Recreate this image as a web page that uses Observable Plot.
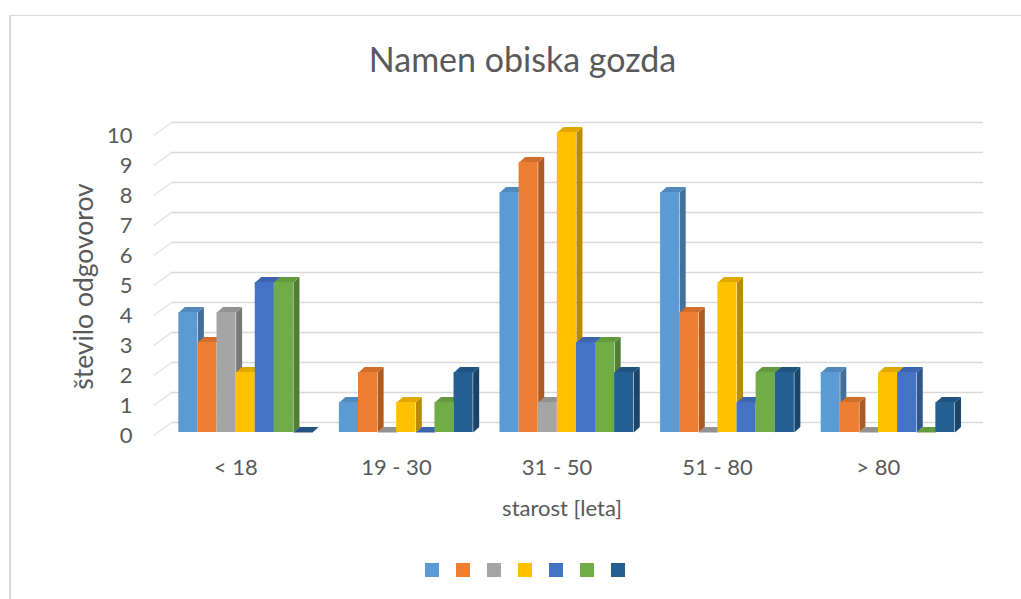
<!DOCTYPE html>
<html><head><meta charset="utf-8">
<script src="https://cdn.jsdelivr.net/npm/d3@7"></script>
<script src="https://cdn.jsdelivr.net/npm/@observablehq/plot@0.6"></script>
<style>
html,body{margin:0;padding:0;background:#fff;overflow:hidden;}
#wrap{position:relative;width:1021px;height:599px;overflow:hidden;font-family:Lato,sans-serif;background:#fff;}
#frame{position:absolute;left:9px;top:15px;width:1100px;height:700px;border-left:2px solid #d9d9d9;border-top:1.5px solid #d9d9d9;box-sizing:border-box;}
#title{position:absolute;left:0;width:1045px;top:42px;line-height:33px;text-align:center;font-size:34px;color:#595959;white-space:nowrap;}
#chart{position:absolute;left:0;top:0;}
#legend{position:absolute;top:563px;left:0;width:1021px;height:14px;}
#legend span{position:absolute;top:0;width:14px;height:14px;display:block;}
</style></head>
<body>
<div id="wrap">
  <div id="frame"></div>
  <div id="chart"></div>
  <div id="title">Namen obiska gozda</div>
  <div id="legend"></div>
</div>
<script>
// ---- data ----
const categories = ["< 18", "19 - 30", "31 - 50", "51 - 80", "> 80"];
const series1 = [4, 1, 8, 8, 2];
const series2 = [3, 2, 9, 4, 1];
const series3 = [4, 0, 1, 0, 0];
const series4 = [2, 1, 10, 5, 2];
const series5 = [5, 0, 3, 1, 2];
const series6 = [5, 1, 3, 2, 0];
const series7 = [0, 2, 2, 2, 1];
const seriesValues = [series1, series2, series3, series4, series5, series6, series7];
const seriesColors = ["#5B9BD5", "#ED7D31", "#A5A5A5", "#FFC000", "#4472C4", "#70AD47", "#255E91"];
const yTicks = [0, 1, 2, 3, 4, 5, 6, 7, 8, 9, 10];
const yTitle = "število odgovorov";
const xTitle = "starost [leta]";

// ---- layout (in category units / value units) ----
const GROUP_OFFSET = -0.355, BAR_W = 0.119, DEPTH_X = 0.0374, DEPTH_Y = 0.183;
const GRID_X0 = -0.012, GRID_XW = 0.1, GRID_X1 = 5.156;

const bars = [];
seriesValues.forEach((vals, si) => vals.forEach((v, ci) => {
  const x0 = ci + 0.5 + GROUP_OFFSET + si * BAR_W;
  const c = seriesColors[si];
  bars.push({id: si + "-" + ci, v, x0, x1: x0 + BAR_W, color: c,
    side: d3.color(c).darker(0.9).formatHex(), top: d3.color(c).darker(0.35).formatHex()});
}));
const sidePts = bars.flatMap(b => [
  {id: b.id, fill: b.side, x: b.x1, y: 0},
  {id: b.id, fill: b.side, x: b.x1, y: b.v},
  {id: b.id, fill: b.side, x: b.x1 + DEPTH_X, y: b.v + DEPTH_Y},
  {id: b.id, fill: b.side, x: b.x1 + DEPTH_X, y: DEPTH_Y}
]);
const topPts = bars.flatMap(b => [
  {id: b.id, fill: b.top, x: b.x0, y: b.v},
  {id: b.id, fill: b.top, x: b.x1, y: b.v},
  {id: b.id, fill: b.top, x: b.x1 + DEPTH_X, y: b.v + DEPTH_Y},
  {id: b.id, fill: b.top, x: b.x0 + DEPTH_X, y: b.v + DEPTH_Y}
]);

const chart = Plot.plot({
  width: 1021, height: 599,
  marginLeft: 155, marginRight: 63, marginTop: 132, marginBottom: 167,
  style: {fontFamily: "Lato, sans-serif", fontSize: "22px", color: "#595959", background: "transparent"},
  x: {type: "linear", domain: [0, 5], axis: null},
  y: {domain: [0, 10], axis: null},
  color: {type: "identity"},
  marks: [
    Plot.link(yTicks, {x1: GRID_X0, x2: GRID_XW, y1: d => d - 0.1, y2: d => d + 0.333, stroke: "#e2e2e2", strokeWidth: 1.2}),
    Plot.ruleY(yTicks, {x1: GRID_XW, x2: GRID_X1, dy: -10, stroke: "#d9d9d9", strokeWidth: 1.6}),
    Plot.axisY(yTicks, {tickSize: 0, tickPadding: 23, dy: 3, fontSize: 22, tickFormat: d => String(d)}),
    Plot.line(sidePts, {x: "x", y: "y", z: "id", fill: "fill", stroke: null}),
    Plot.line(topPts, {x: "x", y: "y", z: "id", fill: "fill", stroke: null}),
    Plot.rect(bars, {x1: "x0", x2: "x1", y1: 0, y2: "v", fill: "color"}),
    Plot.text(categories, {x: (d, i) => i + 0.5, y: 0, dy: 35, text: d => d, fontSize: 22}),
    Plot.text([xTitle], {frameAnchor: "bottom", dx: 5, dy: 83, text: d => d, fontSize: 22}),
    Plot.text([yTitle], {frameAnchor: "left", textAnchor: "middle", rotate: -90, dx: -71, dy: 4, text: d => d, fontSize: 26.5})
  ]
});
document.getElementById("chart").appendChild(chart);

const legend = document.getElementById("legend");
seriesColors.forEach((c, i) => {
  const s = document.createElement("span");
  s.style.left = (425 + 31 * i) + "px";
  s.style.background = c;
  legend.appendChild(s);
});
</script>
</body></html>
